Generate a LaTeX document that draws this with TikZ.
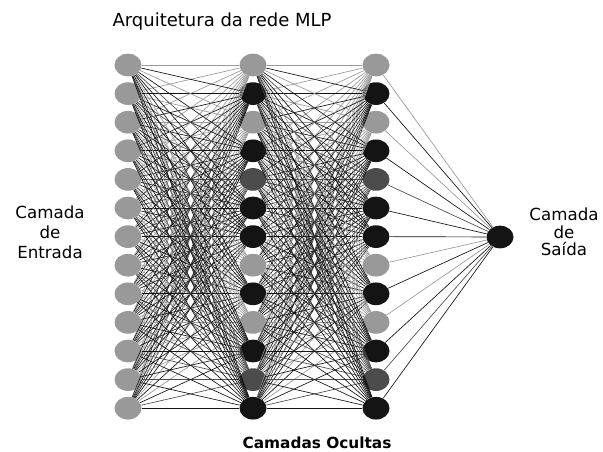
\documentclass[tikz,border=0pt]{standalone}
\usepackage{fontspec}
\setmainfont{DejaVu Sans}
\usetikzlibrary{shapes.geometric}
\definecolor{nodegray}{gray}{0.6}
\definecolor{nodedark}{gray}{0.3}
\definecolor{nodeblack}{gray}{0.08}

\begin{document}
\begin{tikzpicture}[x=0.75pt,y=-0.75pt,
    neuron/.style={ellipse,fill=#1,inner sep=0pt,minimum width=20.25pt,minimum height=17pt},
    link/.style={draw=#1,line width=0.5pt}]
    \useasboundingbox (0,0) rectangle (603,451);
    % Input layer
    \foreach \i in {1,...,13}
        \node[neuron=nodegray] (in\i) at (128,{65+(\i-1)*28.6}) {};
    % Hidden layers
    \foreach \c [count=\i] in {nodegray,nodeblack,nodegray,nodeblack,nodedark,nodeblack,nodeblack,nodegray,nodeblack,nodegray,nodeblack,nodedark,nodeblack} {
        \node[neuron=\c] (ha\i) at (253,{65+(\i-1)*28.6}) {};
        \node[neuron=\c] (hb\i) at (376,{65+(\i-1)*28.6}) {};
    }
    % Output layer
    \node[neuron=nodeblack] (out) at (500,237) {};
    % Connections
    \foreach \c [count=\j] in {nodegray,nodeblack,nodegray,nodeblack,nodedark,nodeblack,nodeblack,nodegray,nodeblack,nodegray,nodeblack,nodedark,nodeblack} {
        \foreach \i in {1,...,13} {
            \draw[link=\c] (in\i) -- (ha\j);
            \draw[link=\c] (ha\i) -- (hb\j);
        }
        \draw[link=\c] (hb\j) -- (out);
    }
    % Labels
    \node[font=\fontsize{13.5}{15}\selectfont] (title) at (222,22) {Arquitetura da rede MLP};
    \node[align=center,font=\fontsize{12.5}{15}\selectfont] (inlabel) at (50,232) {Camada\\de\\Entrada};
    \node[align=center,font=\fontsize{12.5}{13}\selectfont] (outlabel) at (564,232) {Camada\\de\\Saída};
    \node[font=\bfseries\fontsize{11.5}{13}\selectfont] (hidlabel) at (317,443) {Camadas Ocultas};
\end{tikzpicture}
\end{document}
